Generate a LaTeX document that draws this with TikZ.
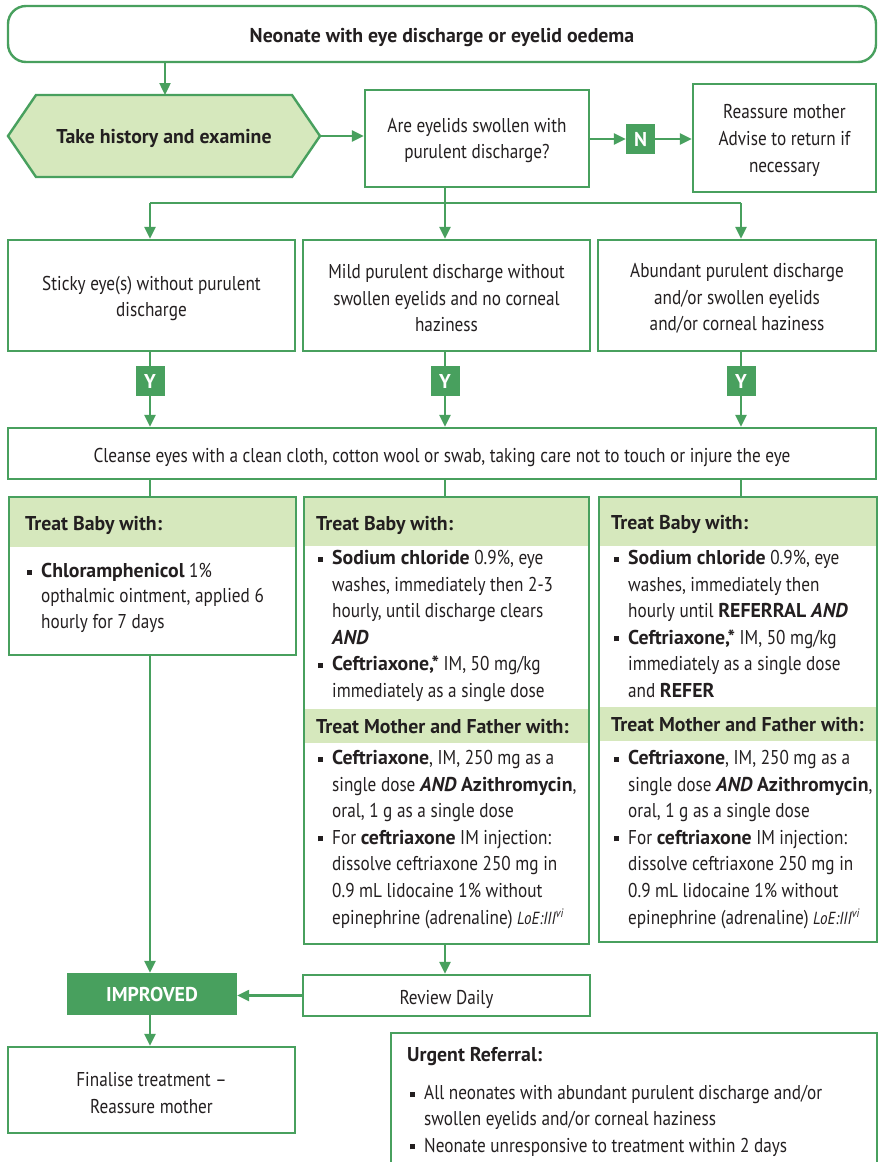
\documentclass[tikz,border=0pt]{standalone}
\usepackage{fontspec}
\setmainfont{PT Sans}[UprightFeatures={FakeStretch=0.86},ItalicFeatures={FakeStretch=0.86},BoldFeatures={FakeStretch=0.99},BoldItalicFeatures={FakeStretch=0.99}]
\usetikzlibrary{arrows.meta}
\definecolor{gr}{RGB}{72,160,94}
\definecolor{lg}{RGB}{214,232,189}
\definecolor{ink}{RGB}{35,31,32}
\newcommand\bsq{\rule[2.8pt]{5pt}{5pt}}
\newcommand\bl{\makebox[14pt][l]{\bsq}}
\newcommand\ind{\hspace*{14pt}}
\newcommand\loe{{\fontsize{17.5}{17.5}\selectfont\itshape LoE:III\textsuperscript{vi}}}
\newcommand\bi[1]{\textbf{\textit{#1}}}
\newcommand\up[1]{\rule{0pt}{#1pt}}
\begin{document}
\begin{tikzpicture}[x=1pt,y=-1pt,
  font=\fontsize{20}{26.6}\selectfont, text=ink,
  box/.style={draw=gr,line width=2.4pt,fill=white,inner sep=0pt,align=center},
  frame/.style={draw=gr,line width=2.4pt,inner sep=0pt,anchor=north west},
  con/.style={draw=gr,line width=2.4pt},
  arr/.style={con,-{Triangle[length=12pt,width=11pt]}},
  txt/.style={inner sep=0pt,align=left,anchor=north west},
  hd/.style={inner sep=0pt,anchor=west,font=\fontsize{20}{22}\selectfont\bfseries},
  lab/.style={fill=gr,text=white,font=\fontsize{20}{22}\selectfont\bfseries,minimum width=29pt,minimum height=30pt,inner sep=0pt}]
\useasboundingbox (0,0) rectangle (879,1162);
\coordinate (c1) at (150,0);
\coordinate (c2) at (445,0);
\coordinate (c3) at (741,0);
% top
\node[box,rounded corners=18pt,minimum width=868pt,minimum height=56pt,font=\fontsize{20}{22}\selectfont\bfseries] (top) at (442,34) {\up{22}Neonate with eye discharge or eyelid oedema};
% hexagon
\draw[con,fill=lg] (8,136) -- (36,95) -- (292,95) -- (320,136) -- (292,177) -- (36,177) -- cycle;
\coordinate (hexT) at (165,95);
\coordinate (hexR) at (320,136);
\node[inner sep=0pt,font=\fontsize{20}{22}\selectfont\bfseries] (hist) at (164,138) {Take history and examine};
\node[box,minimum width=224pt,minimum height=97pt] (q) at (477,138.5) {\up{18}Are eyelids swollen with\\purulent discharge?};
\node[lab] (N) at (640.5,139) {N};
\node[box,minimum width=183pt,minimum height=108pt] (re) at (784.5,138) {\up{19}Reassure mother\\Advise to return if\\necessary};
\draw[arr] (top.south -| hexT) -- (hexT);
\draw[arr] (hexR) -- (hexR -| q.west);
\draw[arr] (q.east |- N) -- (N.west);
\draw[arr] (N.east) -- (N.east -| re.west);
% row
\node[box,minimum width=287pt,minimum height=111pt] (b1) at (151.5,295.5) {\up{20}Sticky eye(s) without purulent\\discharge};
\node[box,minimum width=287pt,minimum height=111pt] (b2) at (446.5,295.5) {\up{20}Mild purulent discharge without\\swollen eyelids and no corneal\\haziness};
\node[box,minimum width=278pt,minimum height=111pt] (b3) at (737,295.5) {\up{20}Abundant purulent discharge\\and/or swollen eyelids\\and/or corneal haziness};
\coordinate (br) at (445,203);
\draw[arr] (q.south -| br) -- (c2 |- b2.north);
\draw[con] (c1 |- br) -- (c3 |- br);
\draw[arr] (c1 |- br) -- (c1 |- b1.north);
\draw[arr] (c3 |- br) -- (c3 |- b3.north);
% Y labels
\node[lab] (y1) at (150,381) {Y};
\node[lab] (y2) at (445,381) {Y};
\node[lab] (y3) at (741,381) {Y};
\node[box,minimum width=868pt,minimum height=51pt] (cl) at (442,453.5) {\up{23}Cleanse eyes with a clean cloth, cotton wool or swab, taking care not to touch or injure the eye};
\draw[con] (y1 |- b1.south) -- (y1.north);
\draw[con] (y2 |- b2.south) -- (y2.north);
\draw[con] (y3 |- b3.south) -- (y3.north);
\draw[arr] (y1.south) -- (y1 |- cl.north);
\draw[arr] (y2.south) -- (y2 |- cl.north);
\draw[arr] (y3.south) -- (y3 |- cl.north);
% treatment boxes
\fill[lg] (8,496) rectangle (295,547);
\fill[lg] (303,496) rectangle (588,546);
\fill[lg] (303,709) rectangle (588,743);
\fill[lg] (598,496) rectangle (876,546);
\fill[lg] (598,707) rectangle (876,741);
\node[frame,minimum width=287pt,minimum height=158pt] (t1) at (8,496) {};
\node[frame,minimum width=285pt,minimum height=447pt] (t2) at (303,496) {};
\node[frame,minimum width=278pt,minimum height=445pt] (t3) at (598,496) {};
\draw[con] (c1 |- cl.south) -- (c1 |- t1.north);
\draw[con] (c2 |- cl.south) -- (c2 |- t2.north);
\draw[con] (c3 |- cl.south) -- (c3 |- t3.north);
\node[hd] (h1) at (25,525) {Treat Baby with:};
\node[hd] (h2) at (316,525) {Treat Baby with:};
\node[hd] (h3) at (611,524) {Treat Baby with:};
\node[hd] (h4) at (316,727) {Treat Mother and Father with:};
\node[hd] (h5) at (611,725) {Treat Mother and Father with:};
\node[txt,font=\fontsize{20}{25.5}\selectfont] (p1) at (27,563) {\bl\textbf{Chloramphenicol} 1\%\\
\ind opthalmic ointment, applied 6\\
\ind hourly for 7 days};
\node[txt] (p2) at (318,550) {\bl\textbf{Sodium chloride} 0.9\%, eye\\
\ind washes, immediately then 2-3\\
\ind hourly, until discharge clears\\
\ind\bi{AND}\\
\bl\textbf{Ceftriaxone,*} IM, 50 mg/kg\\
\ind immediately as a single dose};
\node[txt] (p3) at (318,750) {\bl\textbf{Ceftriaxone}, IM, 250 mg as a\\
\ind single dose \bi{AND} \textbf{Azithromycin},\\
\ind oral, 1 g as a single dose\\
\bl For \textbf{ceftriaxone} IM injection:\\
\ind dissolve ceftriaxone 250 mg in\\
\ind 0.9 mL lidocaine 1\% without\\
\ind epinephrine (adrenaline) \loe};
\node[txt] (p4) at (614,550) {\bl\textbf{Sodium chloride} 0.9\%, eye\\
\ind washes, immediately then\\
\ind hourly until \textbf{REFERRAL \textit{AND}}\\
\bl\textbf{Ceftriaxone,*} IM, 50 mg/kg\\
\ind immediately as a single dose\\
\ind and \textbf{REFER}};
\node[txt] (p5) at (614,750) {\bl\textbf{Ceftriaxone}, IM, 250 mg as a\\
\ind single dose \bi{AND} \textbf{Azithromycin},\\
\ind oral, 1 g as a single dose\\
\bl For \textbf{ceftriaxone} IM injection:\\
\ind dissolve ceftriaxone 250 mg in\\
\ind 0.9 mL lidocaine 1\% without\\
\ind epinephrine (adrenaline) \loe};
% bottom
\node[lab,minimum width=170pt,minimum height=42pt] (imp) at (152,994) {IMPROVED};
\node[box,minimum width=287pt,minimum height=41pt] (rev) at (446.5,995.5) {\up{22}Review Daily};
\node[box,minimum width=287pt,minimum height=86pt] (fin) at (151.5,1090) {\up{20}Finalise treatment --\\Reassure mother};
\draw[arr] (t1.south -| c1) -- (c1 |- imp.north);
\draw[arr] (t2.south -| c2) -- (c2 |- rev.north);
\draw[arr] (rev.west) -- (rev.west -| imp.east);
\draw[arr] (imp.south -| c1) -- (c1 |- fin.north);
\node[frame,minimum width=486pt,minimum height=200pt] (ur) at (390,1032) {};
\node[hd] (h6) at (407,1057) {Urgent Referral:};
\node[txt,font=\fontsize{20}{26.3}\selectfont] (p6) at (410,1085) {\bl All neonates with abundant purulent discharge and/or\\
\ind swollen eyelids and/or corneal haziness\\
\bl Neonate unresponsive to treatment within 2 days};
\end{tikzpicture}
\end{document}
